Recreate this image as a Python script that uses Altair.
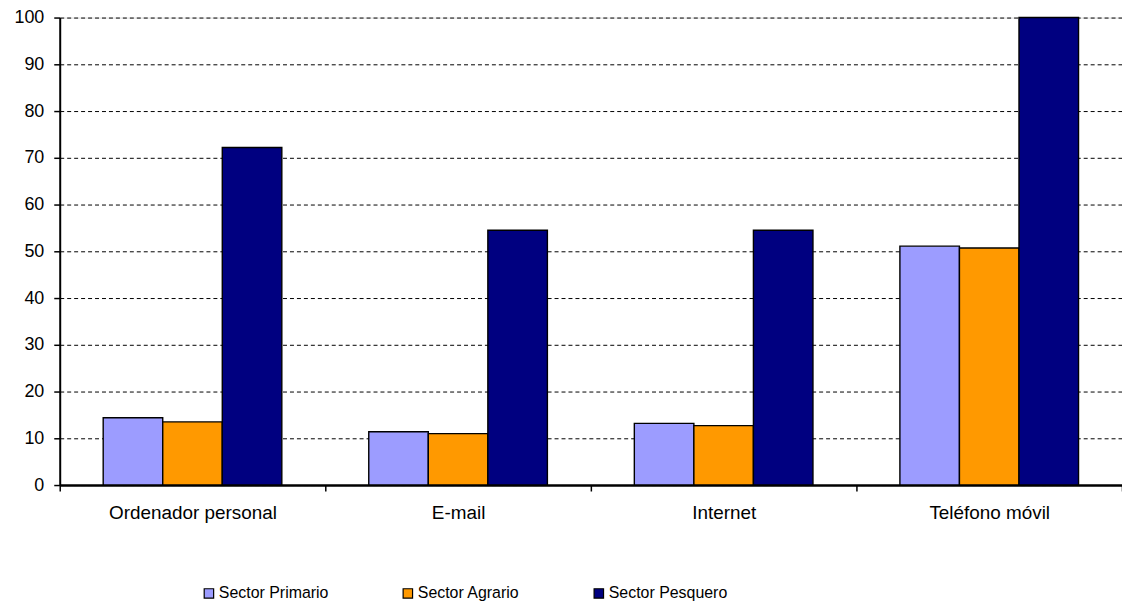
import altair as alt
import pandas as pd

categories = ["Ordenador personal", "E-mail", "Internet", "Teléfono móvil"]
series = ["Sector Primario", "Sector Agrario", "Sector Pesquero"]
primario = [14.4, 11.4, 13.2, 51.1]
agrario = [13.5, 11.0, 12.7, 50.7]
pesquero = [72.2, 54.5, 54.5, 100.0]
colors = ["#9C9CFF", "#FF9900", "#000080"]

rows = []
for s, vals in zip(series, [primario, agrario, pesquero]):
    for c, v in zip(categories, vals):
        rows.append({"categoria": c, "serie": s, "valor": v})
df = pd.DataFrame(rows)

FONT = "Liberation Sans"

bars = alt.Chart(df).mark_bar(stroke="black", strokeWidth=1.4).encode(
    x=alt.X(
        "categoria:N",
        sort=categories,
        scale=alt.Scale(domain=categories, paddingInner=0, paddingOuter=0),
        axis=alt.Axis(
            title=None,
            labelAngle=0,
            labelFont=FONT,
            labelFontSize=19,
            labelColor="black",
            labelPadding=13,
            tickBand="extent",
            ticks=True,
            tickSize=6,
            tickColor="black",
            tickWidth=1.5,
            domainColor="black",
            domainWidth=2.5,
            grid=False,
        ),
    ),
    xOffset=alt.XOffset(
        "serie:N",
        sort=series,
        scale=alt.Scale(domain=series, paddingInner=0, paddingOuter=0.73),
    ),
    y=alt.Y(
        "valor:Q",
        scale=alt.Scale(domain=[0, 100], nice=False),
        axis=alt.Axis(
            title=None,
            values=list(range(0, 101, 10)),
            labelFont=FONT,
            labelFontSize=18,
            labelColor="black",
            labelPadding=10,
            tickSize=6,
            tickColor="black",
            tickWidth=1.5,
            domainColor="black",
            domainWidth=2,
            grid=True,
            gridColor="black",
            gridDash=[4, 3],
            gridWidth=1,
            gridOpacity=1,
        ),
    ),
    color=alt.Color(
        "serie:N",
        sort=series,
        scale=alt.Scale(domain=series, range=colors),
        legend=alt.Legend(
            title=None,
            orient="none",
            direction="horizontal",
            columns=3,
            legendX=142,
            legendY=571,
            padding=0,
            symbolType="square",
            symbolSize=90,
            symbolStrokeColor="black",
            symbolStrokeWidth=1.2,
            labelFont=FONT,
            labelFontSize=16,
            labelColor="black",
            labelOffset=2,
            columnPadding=71,
        ),
    ),
)

chart = bars.properties(
    width=1068,
    height=470,
    autosize=alt.AutoSizeParams(type="none"),
    padding={"left": 52, "top": 8, "right": 0, "bottom": 119},
).configure_view(stroke=None).configure(background="white")

chart.save("out.html", embed_options={"renderer": "svg", "actions": False})
